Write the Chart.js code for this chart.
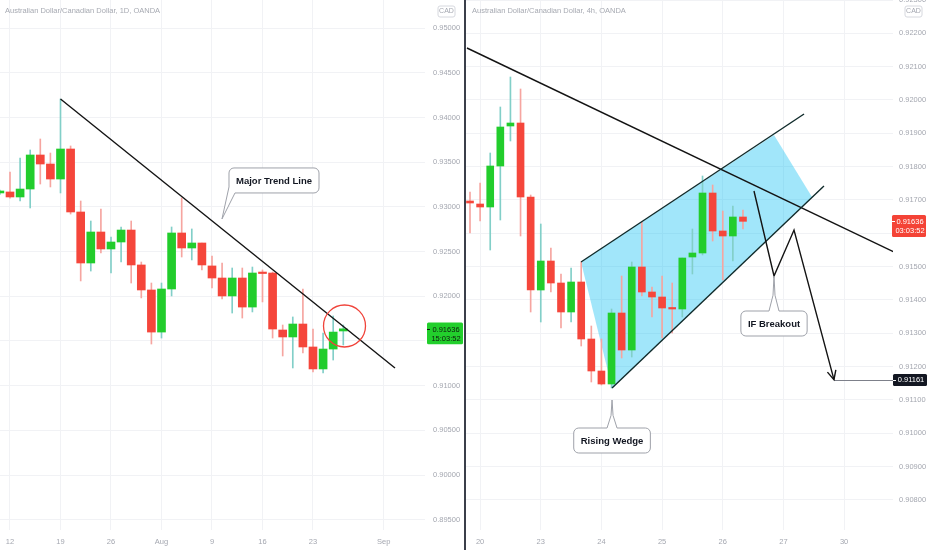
<!DOCTYPE html>
<html><head><meta charset="utf-8">
<script src="https://cdn.jsdelivr.net/npm/chart.js@4.4.1/dist/chart.umd.min.js"></script>
<style>
html,body{margin:0;padding:0;background:#fff;overflow:hidden}
#wrap{display:flex;width:932px;height:550px}
#sep{width:2px;height:550px;background:#3b3f4a}
canvas{display:block}
</style></head><body>
<div id="wrap"><canvas id="c1" width="464" height="550"></canvas><div id="sep"></div><canvas id="c2" width="466" height="550"></canvas></div>
<script>
// ---------- DATA: left panel, AUDCAD 1D ----------
const leftDates = ['Jul 9','Jul 12','Jul 13','Jul 14','Jul 15','Jul 16','Jul 19','Jul 20','Jul 21','Jul 22','Jul 23','Jul 26','Jul 27','Jul 28','Jul 29','Jul 30','Aug 2','Aug 3','Aug 4','Aug 5','Aug 6','Aug 9','Aug 10','Aug 11','Aug 12','Aug 13','Aug 16','Aug 17','Aug 18','Aug 19','Aug 20','Aug 23','Aug 24','Aug 25','Aug 26'];
const leftOpen  = [0.93157,0.93168,0.93112,0.93201,0.93582,0.93481,0.93313,0.93649,0.92944,0.92373,0.92720,0.92530,0.92608,0.92742,0.92351,0.92071,0.91600,0.92082,0.92709,0.92541,0.92597,0.92340,0.92205,0.92004,0.92205,0.91880,0.92261,0.92261,0.91623,0.91545,0.91690,0.91433,0.91187,0.91410,0.91612];
const leftHigh  = [0.93190,0.93392,0.93548,0.93638,0.93761,0.93604,0.94209,0.93683,0.93067,0.92843,0.92977,0.92664,0.92776,0.92843,0.92384,0.92149,0.92149,0.92776,0.93101,0.92754,0.92597,0.92451,0.92373,0.92317,0.92317,0.92328,0.92295,0.92272,0.91679,0.91769,0.92082,0.91634,0.91589,0.91780,0.91679];
const leftLow   = [0.93140,0.93100,0.93067,0.92989,0.93257,0.93224,0.93157,0.92921,0.92172,0.92283,0.92485,0.92261,0.92384,0.92149,0.91982,0.91466,0.91533,0.92004,0.92440,0.92407,0.92295,0.92093,0.91970,0.91813,0.91757,0.91825,0.91937,0.91533,0.91332,0.91198,0.91366,0.91153,0.91142,0.91287,0.91455];
const leftClose = [0.93179,0.93112,0.93201,0.93582,0.93481,0.93313,0.93649,0.92944,0.92373,0.92720,0.92530,0.92608,0.92742,0.92351,0.92071,0.91600,0.92082,0.92709,0.92541,0.92597,0.92351,0.92205,0.92004,0.92205,0.91880,0.92261,0.92255,0.91634,0.91545,0.91690,0.91433,0.91187,0.91410,0.91600,0.91636];
const leftTickIdx    = [2,7,12,17,22,27,32,39];
const leftTickLabels = ['12','19','26','Aug','9','16','23','Sep'];
const leftPriceTicks = [0.895,0.900,0.905,0.910,0.915,0.920,0.925,0.930,0.935,0.940,0.945,0.950];

// ---------- DATA: right panel, AUDCAD 4h ----------
const rightOpen  = [0.91697,0.91688,0.91679,0.91802,0.91922,0.91931,0.91709,0.91430,0.91517,0.91451,0.91364,0.91454,0.91283,0.91187,0.91148,0.91361,0.91250,0.91499,0.91424,0.91409,0.91376,0.91373,0.91529,0.91541,0.91721,0.91607,0.91592,0.91649];
const rightHigh  = [0.91724,0.91751,0.91841,0.91979,0.92069,0.92033,0.91715,0.91628,0.91556,0.91478,0.91496,0.91514,0.91322,0.91283,0.91373,0.91472,0.91514,0.91634,0.91439,0.91472,0.91451,0.91526,0.91613,0.91772,0.91745,0.91667,0.91682,0.91670];
const rightLow   = [0.91601,0.91637,0.91550,0.91640,0.91877,0.91592,0.91364,0.91334,0.91424,0.91316,0.91334,0.91262,0.91154,0.91145,0.91136,0.91226,0.91229,0.91412,0.91349,0.91286,0.91301,0.91349,0.91478,0.91535,0.91577,0.91460,0.91517,0.91613];
const rightClose = [0.91691,0.91679,0.91802,0.91919,0.91931,0.91709,0.91430,0.91517,0.91451,0.91364,0.91454,0.91283,0.91187,0.91148,0.91361,0.91250,0.91499,0.91424,0.91409,0.91376,0.91373,0.91526,0.91541,0.91721,0.91607,0.91592,0.91649,0.91636];
const rightTickIdx    = [2,8,14,20,26,32,38];
const rightTickLabels = ['20','23','24','25','26','27','30'];
const rightPriceTicks = [0.908,0.909,0.910,0.911,0.912,0.913,0.914,0.915,0.916,0.917,0.918,0.919,0.920,0.921,0.922,0.923];

// ---------- styles ----------
Chart.defaults.font.family = '"Liberation Sans", Arial, sans-serif';
const UP='#22cd2c', DN='#f5463b', WUP='#82cfc8', WDN='#f6a5a0';
const GRID='#f1f2f5', TICK='#a4a7b0';

function candleSets(o,h,l,c,bw){
  const up=o.map((v,i)=>c[i]>=v);
  return [
    {data:o.map((v,i)=>({x:i+1,y:[l[i],h[i]]})), backgroundColor:up.map(u=>u?WUP:WDN), barThickness:1, grouped:false, order:2, borderWidth:0},
    {data:o.map((v,i)=>({x:i+1,y:[v,c[i]]})), backgroundColor:up.map(u=>u?UP:DN), barThickness:bw, grouped:false, order:1, minBarLength:1.5, borderWidth:0}
  ];
}

function rr(ctx,x0,y0,x1,y1,r){
  ctx.beginPath();ctx.moveTo(x0+r,y0);ctx.lineTo(x1-r,y0);ctx.arcTo(x1,y0,x1,y0+r,r);
  ctx.lineTo(x1,y1-r);ctx.arcTo(x1,y1,x1-r,y1,r);ctx.lineTo(x0+r,y1);ctx.arcTo(x0,y1,x0,y1-r,r);
  ctx.lineTo(x0,y0+r);ctx.arcTo(x0,y0,x0+r,y0,r);ctx.closePath();
}

function callout(ctx,tx,ty,c){
  ctx.font='bold 9.5px "Liberation Sans", Arial, sans-serif';
  const w=ctx.measureText(c.text).width+14, h=25, r=5;
  let x0,y0,x1,y1;
  ctx.beginPath();
  if(c.side==='bottomLeft'){
    x0=tx+7; y1=ty-26; y0=y1-h; x1=x0+w;
    ctx.moveTo(x0+r,y0);ctx.lineTo(x1-r,y0);ctx.arcTo(x1,y0,x1,y0+r,r);
    ctx.lineTo(x1,y1-r);ctx.arcTo(x1,y1,x1-r,y1,r);
    ctx.lineTo(x0+6,y1);ctx.lineTo(tx,ty);ctx.lineTo(x0,y1-6);
    ctx.lineTo(x0,y0+r);ctx.arcTo(x0,y0,x0+r,y0,r);ctx.closePath();
  } else {
    x0=tx-w/2; x1=tx+w/2; y0=ty+c.gap; y1=y0+h;
    ctx.moveTo(x0+r,y0);ctx.lineTo(tx-5,y0);ctx.lineTo(tx-1,y0-c.gap*0.45);ctx.lineTo(tx,ty);
    ctx.lineTo(tx+1,y0-c.gap*0.45);ctx.lineTo(tx+5,y0);
    ctx.lineTo(x1-r,y0);ctx.arcTo(x1,y0,x1,y0+r,r);
    ctx.lineTo(x1,y1-r);ctx.arcTo(x1,y1,x1-r,y1,r);ctx.lineTo(x0+r,y1);ctx.arcTo(x0,y1,x0,y1-r,r);
    ctx.lineTo(x0,y0+r);ctx.arcTo(x0,y0,x0+r,y0,r);ctx.closePath();
  }
  ctx.fillStyle='#ffffff';ctx.fill();ctx.strokeStyle='#9ea1a9';ctx.lineWidth=1;ctx.stroke();
  ctx.fillStyle='#131722';ctx.textAlign='center';ctx.textBaseline='middle';
  ctx.fillText(c.text,(x0+x1)/2,(y0+y1)/2+0.5);
}

function makeNotes(n){
  return {
    id:'notes'+n.key,
    beforeDatasetsDraw(chart){
      const {ctx,chartArea:ca,scales:{x,y}}=chart;
      ctx.save();ctx.beginPath();ctx.rect(ca.left,ca.top,ca.width,ca.height);ctx.clip();
      (n.polys||[]).forEach(p=>{
        ctx.beginPath();
        p.pts.forEach(([i,v],k)=>{const px=x.getPixelForValue(i),py=y.getPixelForValue(v);k?ctx.lineTo(px,py):ctx.moveTo(px,py);});
        ctx.closePath();ctx.fillStyle=p.color;ctx.fill();
      });
      ctx.restore();
    },
    afterDatasetsDraw(chart){
      const {ctx,chartArea:ca,scales:{x,y}}=chart;
      ctx.save();ctx.beginPath();ctx.rect(ca.left,ca.top,ca.width,ca.height);ctx.clip();
      (n.hlines||[]).forEach(hl=>{
        const py=Math.round(y.getPixelForValue(hl.v))+0.5;
        ctx.beginPath();ctx.moveTo(x.getPixelForValue(hl.from),py);ctx.lineTo(ca.right,py);
        ctx.strokeStyle=hl.color;ctx.lineWidth=1;ctx.stroke();
      });
      (n.lines||[]).forEach(l=>{
        const P=l.pts.map(([i,v])=>[x.getPixelForValue(i),y.getPixelForValue(v)]);
        ctx.beginPath();P.forEach(([px,py],k)=>k?ctx.lineTo(px,py):ctx.moveTo(px,py));
        ctx.strokeStyle=l.color;ctx.lineWidth=l.w;ctx.lineJoin='miter';ctx.stroke();
        if(l.arrow){
          const [a0,b0]=P[P.length-2],[a1,b1]=P[P.length-1];const a=Math.atan2(b1-b0,a1-a0),L=10,g=0.45;
          ctx.beginPath();ctx.moveTo(a1-L*Math.cos(a-g),b1-L*Math.sin(a-g));ctx.lineTo(a1,b1);
          ctx.lineTo(a1-L*Math.cos(a+g),b1-L*Math.sin(a+g));ctx.stroke();
        }
      });
      (n.circles||[]).forEach(c=>{
        ctx.beginPath();ctx.arc(x.getPixelForValue(c.i),y.getPixelForValue(c.v),c.r,0,Math.PI*2);
        ctx.strokeStyle=c.color;ctx.lineWidth=c.w;ctx.stroke();
      });
      ctx.restore();
      ctx.save();
      (n.callouts||[]).forEach(c=>callout(ctx,x.getPixelForValue(c.i),y.getPixelForValue(c.v),c));
      ctx.restore();
    },
    afterDraw(chart){
      const {ctx,chartArea:ca,scales:{y}}=chart;
      ctx.save();
      ctx.font='7.5px "Liberation Sans", Arial, sans-serif';ctx.fillStyle='#a7aab2';ctx.textAlign='left';ctx.textBaseline='middle';
      ctx.fillText(n.title,n.titleX,11);
      // CAD box
      rr(ctx,n.cadX,6,n.cadX+17,17,2);ctx.fillStyle='#fff';ctx.fill();ctx.strokeStyle='#d6d8de';ctx.lineWidth=1;ctx.stroke();
      ctx.font='7px "Liberation Sans", Arial, sans-serif';ctx.fillStyle='#a4a7b0';ctx.textAlign='center';
      ctx.fillText('CAD',n.cadX+8.5,11.5);
      (n.tags||[]).forEach(t=>{
        const py=y.getPixelForValue(t.v);
        const x0=ca.right+t.dx, top=py-t.up;
        rr(ctx,x0,top,t.x1,top+t.h,1.5);ctx.fillStyle=t.bg;ctx.fill();
        ctx.fillStyle=t.fg;ctx.textAlign='center';ctx.textBaseline='middle';
        ctx.font='7.5px "Liberation Sans", Arial, sans-serif';
        ctx.fillText(t.lines[0],(x0+t.x1)/2+1,top+(t.lines.length>1?7:t.h/2));
        if(t.lines.length>1){ctx.fillText(t.lines[1],(x0+t.x1)/2+1,top+16);}
        ctx.beginPath();ctx.moveTo(x0,Math.round(py)+0.5);ctx.lineTo(x0+3,Math.round(py)+0.5);
        ctx.strokeStyle=t.fg;ctx.lineWidth=1;ctx.stroke();
      });
      ctx.restore();
    }
  };
}

function build(id,cfg){
  return new Chart(document.getElementById(id),{
    type:'bar',
    data:{datasets:candleSets(cfg.o,cfg.h,cfg.l,cfg.c,cfg.bw)},
    options:{
      responsive:false,animation:false,devicePixelRatio:1,
      layout:{padding:0},
      plugins:{legend:{display:false},tooltip:{enabled:false}},
      scales:{
        x:{type:'linear',min:cfg.xMin,max:cfg.xMax,offset:false,bounds:'data',
           grid:{color:GRID,offset:false,drawTicks:false},border:{display:false},
           ticks:{color:TICK,font:{size:7.5},padding:7,maxRotation:0,autoSkip:false,
             callback:v=>{const j=cfg.xIdx.indexOf(v);return j<0?'':cfg.xLab[j];}},
           afterBuildTicks:s=>{s.ticks=cfg.xIdx.map(v=>({value:v}));},
           afterFit:s=>{s.height=20;s.paddingLeft=0;s.paddingRight=0;}},
        y:{position:'right',min:cfg.yMin,max:cfg.yMax,bounds:'data',
           grid:{color:GRID,drawTicks:false},border:{display:false},
           ticks:{color:TICK,font:{size:7.5},padding:cfg.yPad,callback:v=>v.toFixed(5)},
           afterBuildTicks:s=>{s.ticks=cfg.yTicks.map(v=>({value:v}));},
           afterFit:s=>{s.width=cfg.yW;s.paddingTop=0;s.paddingBottom=0;}}
      }
    },
    plugins:[makeNotes(cfg.notes)]
  });
}

build('c1',{
  o:leftOpen,h:leftHigh,l:leftLow,c:leftClose,bw:8,
  xMin:1.01,xMax:43.09,xIdx:leftTickIdx,xLab:leftTickLabels,
  yMin:0.893844,yMax:0.953168,yTicks:leftPriceTicks,yW:39,yPad:8,
  notes:{
    key:'L',title:'Australian Dollar/Canadian Dollar, 1D, OANDA',titleX:5,cadX:438,
    lines:[{pts:[[7,0.94209],[40.12,0.91198]],color:'#131313',w:1.4}],
    circles:[{i:35.12,v:0.91668,r:21,color:'#f0433a',w:1.3}],
    callouts:[{i:22.99,v:0.92866,text:'Major Trend Line',side:'bottomLeft'}],
    tags:[{v:0.91636,dx:2,up:6.3,h:21.6,x1:463,bg:'#22cf2c',fg:'#0e1a0e',lines:['0.91636','15:03:52']}]
  }
});

build('c2',{
  o:rightOpen,h:rightHigh,l:rightLow,c:rightClose,bw:7,
  xMin:0.6044,xMax:42.84,xIdx:rightTickIdx,xLab:rightTickLabels,
  yMin:0.9071,yMax:0.923,yTicks:rightPriceTicks,yW:39,yPad:6,
  notes:{
    key:'R',title:'Australian Dollar/Canadian Dollar, 4h, OANDA',titleX:6,cadX:439,
    polys:[{pts:[[11.98,0.91514],[31.07,0.91895],[34.83,0.91709],[15.05,0.91136]],color:'rgba(0,188,242,0.37)'}],
    hlines:[{v:0.91161,from:37.0,color:'#7d808a'}],
    lines:[
      {pts:[[0.70,0.92156],[42.94,0.91544]],color:'#131313',w:1.4},
      {pts:[[11.98,0.91514],[34.04,0.91958]],color:'#0f2a2a',w:1.4},
      {pts:[[15.05,0.91136],[36.01,0.91742]],color:'#0f2a2a',w:1.4},
      {pts:[[29.09,0.91727],[31.07,0.91472],[33.05,0.91610],[37.0,0.91161]],color:'#131313',w:1.4,arrow:true}
    ],
    callouts:[
      {i:31.07,v:0.91472,text:'IF Breakout',side:'top',gap:35},
      {i:15.05,v:0.91100,text:'Rising Wedge',side:'top',gap:28}
    ],
    tags:[
      {v:0.91636,dx:-1,up:6.3,h:22,x1:460,bg:'#f44336',fg:'#ffffff',lines:['0.91636','03:03:52']},
      {v:0.91161,dx:0,up:5.6,h:12,x1:461,bg:'#131722',fg:'#ffffff',lines:['0.91161']}
    ]
  }
});
</script></body></html>
